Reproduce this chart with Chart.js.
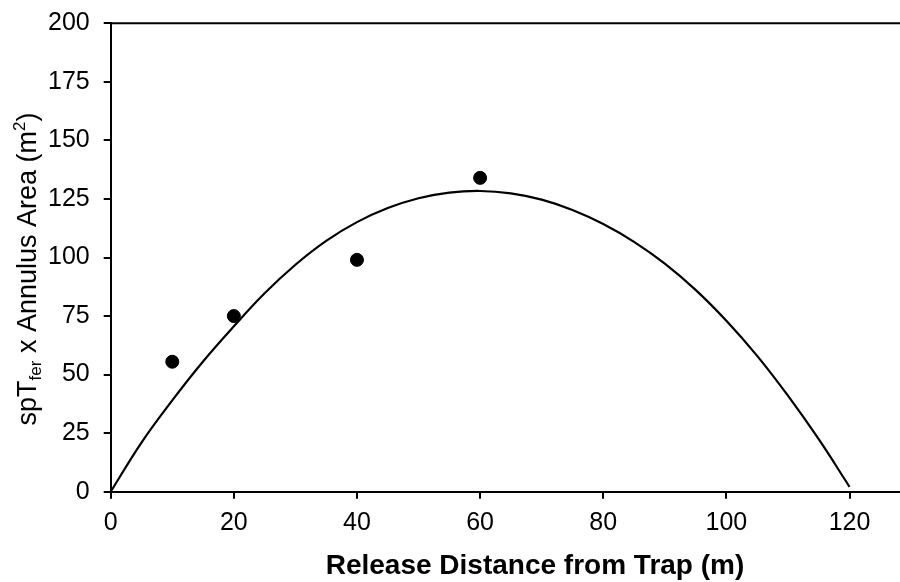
<!DOCTYPE html>
<html>
<head>
<meta charset="utf-8">
<script src="https://cdn.jsdelivr.net/npm/chart.js@4.4.1/dist/chart.umd.min.js"></script>
<style>
  html, body { margin: 0; padding: 0; background: #fff; }
  #wrap { width: 900px; height: 582px; }
</style>
</head>
<body>
<div id="wrap"><canvas id="myChart" width="900" height="582"></canvas></div>
<script>
// observed values (release distance in m)
const releaseDist = [10, 20, 40, 60];
const spTArea = [55.5, 75, 99, 134];

// fitted curve
const fitDist = [0, 5, 10, 15, 20, 25, 30, 35, 40, 45, 50, 55, 60, 65, 70, 75, 80, 85, 90, 95, 100, 105, 110, 115, 120];
const fitArea = [0, 21, 39, 55.6, 70.6, 84.7, 96.9, 107.1, 115.1, 121.1, 125.3, 127.7, 128.4, 127.4, 124.7, 120.3, 114.3, 106.7, 97.4, 86.2, 73, 58, 41, 22.4, 2.1];

const xTicks = [0, 20, 40, 60, 80, 100, 120];
const yTicks = [0, 25, 50, 75, 100, 125, 150, 175, 200];

const FONT = 'Liberation Sans, Arial, sans-serif';

const toPoints = (xs, ys) => xs.map((x, i) => ({ x: x, y: ys[i] }));

// axis titles + top frame line
const titlesPlugin = {
  id: 'titles',
  afterDraw(chart) {
    const ctx = chart.ctx;
    const area = chart.chartArea;
    ctx.save();

    ctx.strokeStyle = '#000';
    ctx.lineWidth = 2;
    ctx.beginPath();
    ctx.moveTo(area.left, area.top);
    ctx.lineTo(area.right, area.top);
    ctx.stroke();

    ctx.fillStyle = '#000';
    ctx.textBaseline = 'middle';
    ctx.font = 'bold 28px ' + FONT;
    ctx.textAlign = 'center';
    ctx.fillText('Release Distance from Trap (m)', 535, 566);

    // y title with subscript / superscript
    const big = '27px ' + FONT;
    const small = '17px ' + FONT;
    const parts = [
      { t: 'spT', f: big, dy: 0 },
      { t: 'fer', f: small, dy: 7 },
      { t: ' x Annulus Area (m', f: big, dy: 0 },
      { t: '2', f: small, dy: -9 },
      { t: ')', f: big, dy: 0 }
    ];
    let total = 0;
    parts.forEach(p => { ctx.font = p.f; p.w = ctx.measureText(p.t).width; total += p.w; });
    ctx.translate(29, 269);
    ctx.rotate(-Math.PI / 2);
    ctx.textAlign = 'left';
    let x = -total / 2;
    parts.forEach(p => {
      ctx.font = p.f;
      ctx.fillText(p.t, x, p.dy);
      x += p.w;
    });
    ctx.restore();
  }
};

new Chart(document.getElementById('myChart'), {
  type: 'scatter',
  data: {
    datasets: [{
      label: 'fit',
      data: toPoints(fitDist, fitArea),
      showLine: true,
      borderColor: '#000',
      borderWidth: 2.2,
      pointRadius: 0,
      tension: 0.4,
      fill: false
    }, {
      label: 'observed',
      data: toPoints(releaseDist, spTArea),
      backgroundColor: '#000',
      borderColor: '#000',
      pointRadius: 6.5,
      pointHoverRadius: 6.5
    }]
  },
  options: {
    responsive: false,
    animation: false,
    layout: { autoPadding: false, padding: { top: 23.3, right: 0, left: 0, bottom: 0 } },
    plugins: {
      legend: { display: false },
      tooltip: { enabled: false }
    },
    scales: {
      x: {
        type: 'linear',
        min: 0,
        max: 128.2,
        afterFit: s => { s.height = 90.3; s.paddingLeft = 0; s.paddingRight = 0; },
        afterBuildTicks: s => { s.ticks = xTicks.map(v => ({ value: v })); },
        grid: { drawOnChartArea: false, drawTicks: true, tickLength: 7, color: '#000', lineWidth: 2 },
        border: { display: true, color: '#000', width: 2 },
        ticks: { color: '#000', font: { family: FONT, size: 25 }, padding: 9, maxRotation: 0 }
      },
      y: {
        type: 'linear',
        min: 0,
        max: 200,
        afterFit: s => { s.width = 110.7; s.paddingTop = 0; s.paddingBottom = 0; },
        afterBuildTicks: s => { s.ticks = yTicks.map(v => ({ value: v })); },
        grid: { drawOnChartArea: false, drawTicks: true, tickLength: 7, color: '#000', lineWidth: 2 },
        border: { display: true, color: '#000', width: 2 },
        ticks: { color: '#000', font: { family: FONT, size: 25 }, padding: 14 }
      }
    }
  },
  plugins: [titlesPlugin]
});
</script>
</body>
</html>
